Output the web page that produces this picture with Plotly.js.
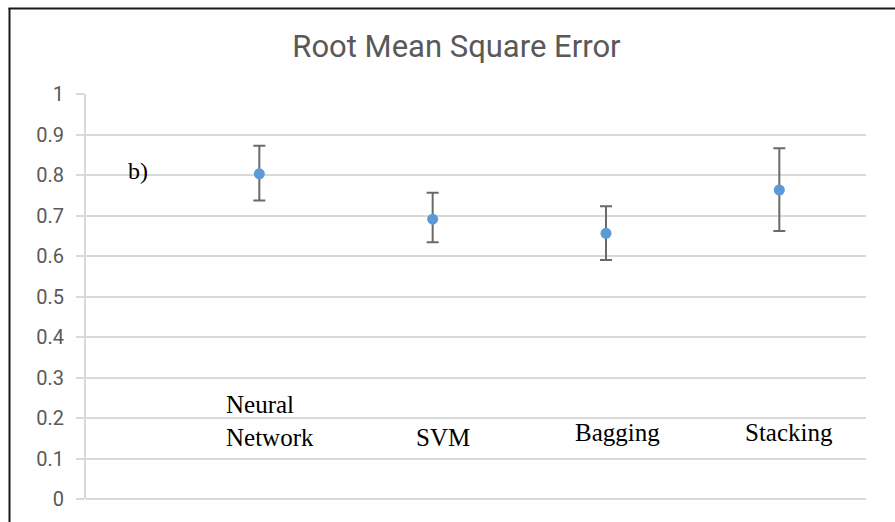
<!DOCTYPE html>
<html>
<head>
<meta charset="utf-8">
<script src="https://cdn.plot.ly/plotly-3.0.1.min.js"></script>
<style>
  html, body { margin: 0; padding: 0; background: #ffffff; }
  #chart { width: 895px; height: 522px; }
</style>
</head>
<body>
<div id="chart"></div>
<script>
// ---- data ----
const categories = ['Neural Network', 'SVM', 'Bagging', 'Stacking'];
const categoryLabels = ['Neural<br>Network', 'SVM', 'Bagging', 'Stacking'];
const rmse = [0.803, 0.691, 0.656, 0.763];
const errPlus = [0.069, 0.065, 0.067, 0.103];
const errMinus = [0.066, 0.057, 0.066, 0.101];
const yTickVals = [0, 0.1, 0.2, 0.3, 0.4, 0.5, 0.6, 0.7, 0.8, 0.9, 1];
const yTickText = ['0', '0.1', '0.2', '0.3', '0.4', '0.5', '0.6', '0.7', '0.8', '0.9', '1'];
const chartTitle = 'Root Mean Square Error';
const panelLabel = 'b)';

// ---- layout helpers (positions / styles) ----
const xPos = categories.map((c, i) => i + 1);
const labelPlacement = [
  { xanchor: 'left',   xshift: -35, y: 0.193 },
  { xanchor: 'center', xshift: 10,  y: 0.153 },
  { xanchor: 'center', xshift: 11,  y: 0.163 },
  { xanchor: 'center', xshift: 10,  y: 0.163 }
];

const L = 86, R = 866, T = 94, B = 499;
const W = R - L, H = B - T;
const px2paperX = px => (px - L) / W;
const px2paperY = py => (B - py) / H;

const trace = {
  type: 'scatter',
  mode: 'markers',
  x: xPos,
  y: rmse,
  text: categories,
  marker: { color: '#5b9bd5', size: 11 },
  error_y: {
    type: 'data',
    symmetric: false,
    array: errPlus,
    arrayminus: errMinus,
    color: '#6a6a6a',
    thickness: 2,
    width: 6
  },
  hoverinfo: 'text+y',
  showlegend: false
};

const annotations = categoryLabels.map((t, i) => ({
  x: xPos[i],
  y: labelPlacement[i].y,
  xref: 'x', yref: 'y',
  text: t,
  showarrow: false,
  align: 'left',
  xanchor: labelPlacement[i].xanchor,
  yanchor: 'middle',
  xshift: labelPlacement[i].xshift,
  font: { family: '"Liberation Serif", "Times New Roman", serif', size: 25, color: '#000000' }
}));
annotations.push({
  x: 0.3, y: 0.81, xref: 'x', yref: 'y',
  text: panelLabel, showarrow: false,
  xanchor: 'center', yanchor: 'middle',
  font: { family: '"Liberation Serif", "Times New Roman", serif', size: 24, color: '#000000' }
});

const layout = {
  width: 895,
  height: 522,
  margin: { l: L, r: 895 - R, t: T, b: 522 - B, pad: 0 },
  paper_bgcolor: '#ffffff',
  plot_bgcolor: '#ffffff',
  title: {
    text: chartTitle,
    font: { family: 'Roboto, "Open Sans", sans-serif', size: 31, color: '#595959' },
    xref: 'container', yref: 'container',
    x: 0.51, xanchor: 'center',
    y: 1 - 46 / 522, yanchor: 'middle'
  },
  xaxis: {
    range: [0, 4.5],
    showgrid: false,
    zeroline: false,
    showline: false,
    showticklabels: false,
    ticks: '',
    fixedrange: true
  },
  yaxis: {
    range: [0, 1],
    tickmode: 'array',
    tickvals: yTickVals,
    ticktext: yTickText,
    showgrid: true,
    gridcolor: '#d9d9d9',
    gridwidth: 2,
    zeroline: true,
    zerolinecolor: '#d9d9d9',
    zerolinewidth: 2,
    showline: true,
    linecolor: '#d9d9d9',
    linewidth: 2,
    ticks: 'outside',
    ticklen: 8,
    tickcolor: '#d9d9d9',
    tickwidth: 2,
    ticklabelstandoff: 8,
    tickfont: { family: 'Roboto, "Open Sans", sans-serif', size: 20, color: '#595959' },
    fixedrange: true
  },
  annotations: annotations,
  shapes: [
    { type: 'line', xref: 'paper', yref: 'paper',
      x0: px2paperX(8.5), x1: px2paperX(900), y0: px2paperY(8.5), y1: px2paperY(8.5),
      line: { color: '#1a1a1a', width: 2 } },
    { type: 'line', xref: 'paper', yref: 'paper',
      x0: px2paperX(9.5), x1: px2paperX(9.5), y0: px2paperY(8), y1: px2paperY(530),
      line: { color: '#1a1a1a', width: 2 } }
  ]
};

Plotly.newPlot('chart', [trace], layout, { displayModeBar: false, staticPlot: true });
</script>
</body>
</html>
